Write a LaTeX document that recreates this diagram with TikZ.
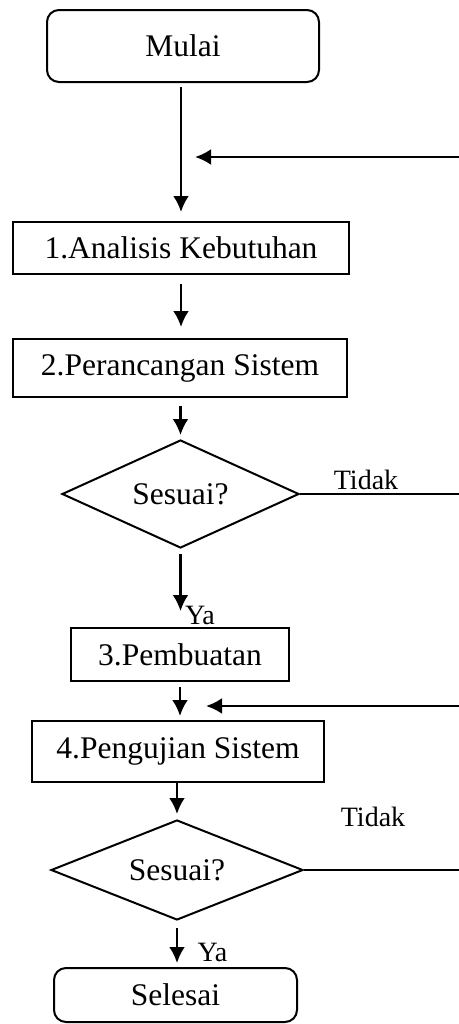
\documentclass[tikz,border=0pt]{standalone}
\usepackage{fontspec}
\setmainfont{Liberation Serif}
\usetikzlibrary{arrows.meta,shapes.geometric}

\begin{document}
\begin{tikzpicture}[x=0.5pt,y=-0.5pt,>={Latex[length=8pt,width=8pt]},
    font=\fontsize{15.75}{18}\selectfont,
    terminal/.style={draw,line width=1pt,rounded corners=6pt,inner sep=0pt},
    proses/.style={draw,line width=1pt,inner sep=0pt},
    keputusan/.style={draw,diamond,aspect=2.5,line width=1pt,inner sep=0pt},
    alur/.style={->,line width=1.35pt},
    ket/.style={font=\fontsize{14}{16}\selectfont,inner sep=0pt,anchor=base}]
      \useasboundingbox (0,0) rectangle (459,1024);
      % langkah utama
      \node[terminal,minimum width=136pt,minimum height=36pt] (mulai) at (183,46) {Mulai};
      \node[proses,minimum width=168pt,minimum height=26pt] (analisis) at (181,248) {1.Analisis Kebutuhan};
      \node[proses,minimum width=167pt,minimum height=29pt] (perancangan) at (180,368) {2.Perancangan Sistem};
      \node[keputusan,minimum width=118.5pt,minimum height=54pt] (cek1) at (180.5,494) {Sesuai?};
      \node[proses,minimum width=109pt,minimum height=26.5pt] (pembuatan) at (180,654.5) {3.Pembuatan};
      \node[proses,minimum width=146pt,minimum height=30.5pt] (pengujian) at (178,751.5) {4.Pengujian Sistem};
      \node[keputusan,minimum width=126pt,minimum height=50pt] (cek2) at (177,870) {Sesuai?};
      \node[terminal,minimum width=121.5pt,minimum height=27pt] (selesai) at (175.5,995) {Selesai};
      % alur ke bawah
      \draw[alur,shorten <=2pt,shorten >=4.5pt] (analisis.north |- mulai.south) -- (analisis.north);
      \draw[alur,shorten <=4.5pt,shorten >=5.5pt] (analisis.south) -- (analisis.south |- perancangan.north);
      \draw[alur,shorten <=4pt,shorten >=2pt] (cek1.north |- perancangan.south) -- (cek1.north);
      \draw[alur,shorten <=2.5pt,shorten >=8pt] (cek1.south) -- (cek1.south |- pembuatan.north);
      \draw[alur,shorten <=2.5pt,shorten >=2pt] (pembuatan.south) -- (pembuatan.south |- pengujian.north);
      \draw[alur,shorten >=2.5pt] (cek2.north |- pengujian.south) -- (cek2.north);
      \draw[alur,shorten <=3.5pt,shorten >=2pt] (cek2.south) -- (cek2.south |- selesai.north);
      % jalur kembali
      \coordinate (balik1) at (459,157);
      \coordinate (masuk1) at (195,157);
      \coordinate (balik2) at (459,706);
      \coordinate (masuk2) at (206,706);
      \draw[alur] (balik1) -- (masuk1);
      \draw[alur] (balik2) -- (masuk2);
      \coordinate (tidak1) at (459,494);
      \coordinate (tidak2) at (459,870);
      \draw[line width=1pt] (cek1.east) -- (tidak1);
      \draw[line width=1pt] (cek2.east) -- (tidak2);
      % keterangan
      \node[ket] (ltidak1) at (366,489) {Tidak};
      \node[ket] (lya1) at (200,624) {Ya};
      \node[ket] (ltidak2) at (373,826) {Tidak};
      \node[ket] (lya2) at (212.5,961) {Ya};
    \end{tikzpicture}
\end{document}
